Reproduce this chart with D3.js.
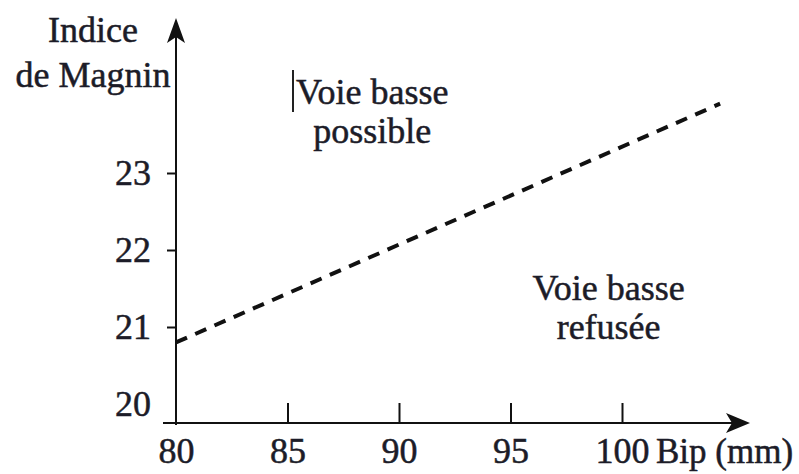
<!DOCTYPE html>
<html>
<head>
<meta charset="utf-8">
<script src="https://cdn.jsdelivr.net/npm/d3@7"></script>
<style>
  body { margin: 0; background: #fff; }
  text { font-family: "Liberation Serif", "Times New Roman", serif; fill: #1c1c28; stroke: #1c1c28; stroke-width: 0.5px; }
</style>
</head>
<body>
<div id="chart"></div>
<script>
// data
const bipTicks = [80, 85, 90, 95, 100];
const magninTicks = [20, 21, 22, 23];
const limitBip = [80, 104.4];
const limitMagnin = [20.8, 23.9];
const zoneLabels = [
  { bip: 88.8, magnin: 23.9, lines: ["Voie basse", "possible"] },
  { bip: 99.4, magnin: 21.35, lines: ["Voie basse", "refusée"] }
];

const width = 799, height = 474;
const originY = 423; // where the Bip axis sits

const x = d3.scaleLinear().domain([80, 100]).range([176, 622]);
const y = d3.scaleLinear().domain([20, 23]).range([404, 173]);

const svg = d3.select("#chart").append("svg")
  .attr("width", width)
  .attr("height", height);

// y ticks + labels
const yAxis = d3.axisLeft(y)
  .tickValues(magninTicks)
  .tickSize(9)
  .tickPadding(16)
  .tickFormat(d3.format("d"));

const gy = svg.append("g")
  .attr("transform", `translate(${x(80)},0)`)
  .call(yAxis);
gy.select(".domain").remove();
gy.selectAll(".tick line").attr("stroke", "#111").attr("stroke-width", 2)
  .filter(d => d === 20).remove();
gy.selectAll(".tick text").attr("font-size", 36).attr("fill", "#1c1c28")
  .attr("font-family", "Liberation Serif");

// x ticks + labels
const xAxis = d3.axisBottom(x)
  .tickValues(bipTicks)
  .tickSize(-20)
  .tickPadding(14)
  .tickFormat(d3.format("d"));

const gx = svg.append("g")
  .attr("transform", `translate(0,${originY})`)
  .call(xAxis);
gx.select(".domain").remove();
gx.selectAll(".tick line").attr("stroke", "#111").attr("stroke-width", 2)
  .filter(d => d === 80).remove();
gx.selectAll(".tick text").attr("font-size", 36).attr("fill", "#1c1c28")
  .attr("font-family", "Liberation Serif");

// axis lines with arrow heads
const ax = x(80);
svg.append("line")
  .attr("x1", ax).attr("x2", ax)
  .attr("y1", originY + 2).attr("y2", 30)
  .attr("stroke", "#111").attr("stroke-width", 2);
svg.append("path")
  .attr("d", `M${ax},18 L${ax - 9},43 L${ax},37 L${ax + 9},43 Z`)
  .attr("fill", "#111");

const tipX = 750;
svg.append("line")
  .attr("x1", 163).attr("x2", tipX - 10)
  .attr("y1", originY).attr("y2", originY)
  .attr("stroke", "#111").attr("stroke-width", 2);
svg.append("path")
  .attr("d", `M${tipX},${originY} L${tipX - 24},${originY - 10} L${tipX - 18},${originY} L${tipX - 24},${originY + 10} Z`)
  .attr("fill", "#111");

// axis titles
svg.append("text")
  .attr("x", 93).attr("y", 42)
  .attr("text-anchor", "middle")
  .attr("font-size", 36)
  .text("Indice");
svg.append("text")
  .attr("x", 93).attr("y", 87)
  .attr("text-anchor", "middle")
  .attr("font-size", 36)
  .text("de Magnin");
svg.append("text")
  .attr("x", 656).attr("y", 463)
  .attr("font-size", 35)
  .text("Bip (mm)");

// dashed limit line
const limit = limitBip.map((b, i) => [b, limitMagnin[i]]);
svg.append("path")
  .datum(limit)
  .attr("d", d3.line().x(d => x(d[0])).y(d => y(d[1])))
  .attr("fill", "none")
  .attr("stroke", "#111")
  .attr("stroke-width", 4)
  .attr("stroke-dasharray", "12,9");

// zone labels
zoneLabels.forEach(z => {
  const t = svg.append("text")
    .attr("text-anchor", "middle")
    .attr("font-size", 36);
  z.lines.forEach((s, i) => {
    t.append("tspan")
      .attr("x", x(z.bip))
      .attr("y", y(z.magnin) + i * 39)
      .text(s);
  });
});

// the little text-cursor bar left of the upper label
svg.append("line")
  .attr("x1", 293).attr("x2", 293)
  .attr("y1", 70).attr("y2", 112)
  .attr("stroke", "#222").attr("stroke-width", 2);
</script>
</body>
</html>
